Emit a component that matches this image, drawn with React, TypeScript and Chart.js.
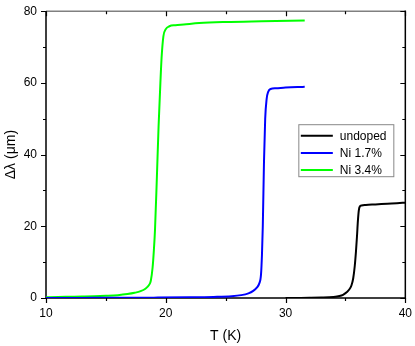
import React, { useEffect, useRef } from "react";
import { Chart, registerables } from "chart.js";

Chart.register(...registerables);

// ---- data ----
const undopedT = [30, 31, 32, 33, 34, 34.5, 34.8, 35.1, 35.3, 35.5, 35.65, 35.78, 35.88, 35.96, 36.04, 36.12, 36.2, 36.35, 36.7, 37.5, 38.5, 39.3, 40];
const undopedDL = [0, 0.02, 0.05, 0.12, 0.3, 0.55, 0.9, 1.6, 2.3, 3.5, 5.5, 9, 13, 17, 21.5, 24.5, 25.5, 25.8, 25.95, 26.1, 26.3, 26.45, 26.6];

const ni17T = [10, 13, 16, 19, 22, 24, 25.5, 26.3, 26.9, 27.3, 27.6, 27.8, 27.95, 28.03, 28.1, 28.2, 28.3, 28.42, 28.55, 28.75, 29.2, 30, 31, 31.6];
const ni17DL = [0, 0.03, 0.06, 0.1, 0.18, 0.3, 0.5, 0.8, 1.3, 2, 2.9, 4, 6.5, 12, 20, 38, 50, 55.5, 57.5, 58.3, 58.5, 58.7, 58.85, 58.9];

const ni34T = [10, 11, 12, 13, 14, 15, 16, 16.8, 17.4, 17.9, 18.3, 18.6, 18.75, 18.9, 19.0, 19.1, 19.25, 19.4, 19.55, 19.65, 19.8, 20.0, 20.3, 20.8, 21.5, 22.8, 25, 28, 31.6];
const ni34DL = [0.2, 0.28, 0.35, 0.42, 0.5, 0.62, 0.8, 1.1, 1.45, 1.9, 2.6, 3.6, 4.8, 8.5, 13, 19, 33, 48, 60, 67, 73, 75, 75.8, 76.1, 76.3, 76.7, 77.0, 77.2, 77.4];

const seriesLabels = ["undoped", "Ni 1.7%", "Ni 3.4%"];
const seriesColors = ["#000000", "#0000ff", "#00ff00"];

const xMajorTicks = [10, 20, 30, 40];
const xMinorTicks = [15, 25, 35];
const yMajorTicks = [0, 20, 40, 60, 80];
const yMinorTicks = [10, 30, 50, 70];

const FONT = "'Liberation Sans', Arial, sans-serif";

const toPts = (xs: number[], ys: number[]) => xs.map((x, i) => ({ x, y: ys[i] }));

const framePlugin = {
  id: "frame",
  beforeDatasetsDraw(chart: any) {
    const { ctx, chartArea: a, scales } = chart;
    const xs = scales.x;
    const ys = scales.y;
    ctx.save();
    // frame
    ctx.lineWidth = 1.5;
    ctx.strokeStyle = "#808080";
    ctx.beginPath();
    ctx.moveTo(a.left, a.top);
    ctx.lineTo(a.right, a.top);
    ctx.stroke();
    ctx.strokeStyle = "#000";
    ctx.beginPath();
    ctx.moveTo(a.left, a.top);
    ctx.lineTo(a.left, a.bottom);
    ctx.lineTo(a.right, a.bottom);
    ctx.lineTo(a.right, a.top - 0.75);
    ctx.stroke();
    // ticks
    ctx.lineWidth = 1.2;
    const maj = 5;
    const min = 3;
    const xt = (v: number, len: number) => {
      const p = Math.round(xs.getPixelForValue(v)) + 0.5;
      ctx.beginPath();
      ctx.moveTo(p, a.bottom);
      ctx.lineTo(p, a.bottom + len);
      ctx.moveTo(p, a.top);
      ctx.lineTo(p, a.top + len);
      ctx.stroke();
    };
    const yt = (v: number, len: number) => {
      const p = Math.round(ys.getPixelForValue(v)) + 0.5;
      ctx.beginPath();
      ctx.moveTo(a.left, p);
      ctx.lineTo(a.left - len, p);
      ctx.moveTo(a.right, p);
      ctx.lineTo(a.right - len, p);
      ctx.stroke();
    };
    xMajorTicks.forEach((v) => xt(v, maj));
    xMinorTicks.forEach((v) => xt(v, min));
    yMajorTicks.forEach((v) => yt(v, maj));
    yMinorTicks.forEach((v) => yt(v, min));
    ctx.restore();
  },
};

const legendPlugin = {
  id: "insideLegend",
  afterDatasetsDraw(chart: any) {
    const { ctx, chartArea: a } = chart;
    const bx = a.right - 106.5;
    const by = a.top + 113.5;
    const bw = 95;
    const bh = 52;
    ctx.save();
    ctx.fillStyle = "#fff";
    ctx.fillRect(bx, by, bw, bh);
    ctx.strokeStyle = "#888";
    ctx.lineWidth = 1;
    ctx.strokeRect(bx, by, bw, bh);
    ctx.font = `12px ${FONT}`;
    ctx.textBaseline = "middle";
    chart.data.datasets.forEach((ds: any, i: number) => {
      const yy = by + 11 + i * 17.2;
      ctx.strokeStyle = ds.borderColor;
      ctx.lineWidth = 2;
      ctx.beginPath();
      ctx.moveTo(bx + 2, yy);
      ctx.lineTo(bx + 34, yy);
      ctx.stroke();
      ctx.fillStyle = "#000";
      ctx.fillText(ds.label, bx + 41, yy + 0.5);
    });
    ctx.restore();
  },
};

export default function App() {
  const ref = useRef<HTMLCanvasElement>(null);
  useEffect(() => {
    document.body.style.margin = "0";
    const chart = new Chart(ref.current!, {
      type: "line",
      data: {
        datasets: [
          { label: seriesLabels[0], data: toPts(undopedT, undopedDL), borderColor: seriesColors[0] },
          { label: seriesLabels[1], data: toPts(ni17T, ni17DL), borderColor: seriesColors[1] },
          { label: seriesLabels[2], data: toPts(ni34T, ni34DL), borderColor: seriesColors[2] },
        ].map((d) => ({
          ...d,
          borderWidth: 2,
          pointRadius: 0,
          fill: false,
          cubicInterpolationMode: "monotone" as const,
        })),
      },
      options: {
        animation: false,
        responsive: false,
        layout: { padding: { left: 0, right: 9, top: 9, bottom: 1 } },
        plugins: { legend: { display: false }, tooltip: { enabled: false } },
        scales: {
          x: {
            type: "linear",
            min: 10,
            max: 40,
            afterFit: (s: any) => {
              s.height = 47;
            },
            afterBuildTicks: (s: any) => {
              s.ticks = xMajorTicks.map((v) => ({ value: v }));
            },
            grid: { display: true, drawOnChartArea: false, color: "rgba(0,0,0,0)", tickLength: 5 },
            border: { display: false },
            ticks: { color: "#000", font: { family: FONT, size: 12 }, padding: 3, maxRotation: 0 },
            title: { display: true, text: "T (K)", color: "#000", font: { family: FONT, size: 14 }, padding: { top: 4, bottom: 0 } },
          },
          y: {
            type: "linear",
            min: 0,
            max: 80,
            afterFit: (s: any) => {
              s.width = 46;
            },
            afterBuildTicks: (s: any) => {
              s.ticks = yMajorTicks.map((v) => ({ value: v }));
            },
            grid: { display: true, drawOnChartArea: false, color: "rgba(0,0,0,0)", tickLength: 5 },
            border: { display: false },
            ticks: { color: "#000", font: { family: FONT, size: 12 }, padding: 4 },
            title: { display: true, text: "Δλ (μm)", color: "#000", font: { family: FONT, size: 14 }, padding: { top: 3, bottom: 0 } },
          },
        },
      },
      plugins: [framePlugin, legendPlugin],
    });
    return () => chart.destroy();
  }, []);
  return (
    <div style={{ width: 415, height: 346 }}>
      <canvas ref={ref} width={415} height={346} style={{ display: "block" }} />
    </div>
  );
}
